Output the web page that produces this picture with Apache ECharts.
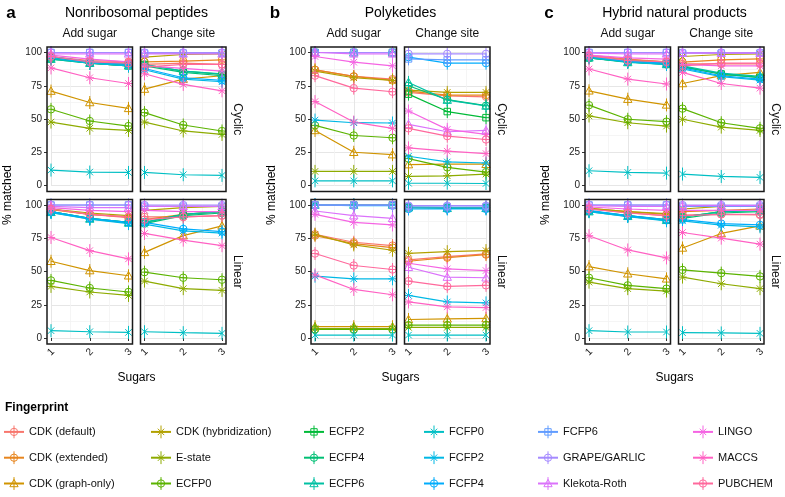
<!DOCTYPE html>
<html><head><meta charset="utf-8">
<script src="https://cdn.jsdelivr.net/npm/echarts@6/dist/echarts.min.js"></script>
<style>html,body{margin:0;padding:0;background:#fff}#c{width:785px;height:497px}</style>
</head><body><div id="c"></div>
<script>
// ---------------- data ----------------
const sugars = [1, 2, 3];
const groupTitles = ['Nonribosomal peptides', 'Polyketides', 'Hybrid natural products'];
const groupLetters = ['a', 'b', 'c'];
const columnLabels = ['Add sugar', 'Change site'];
const rowLabels = ['Cyclic', 'Linear'];
const yTicks = [0, 25, 50, 75, 100];
const fingerprints = ['CDK (default)', 'CDK (extended)', 'CDK (graph-only)', 'CDK (hybridization)', 'E-state',
  'ECFP0', 'ECFP2', 'ECFP4', 'ECFP6', 'FCFP0', 'FCFP2', 'FCFP4', 'FCFP6', 'GRAPE/GARLIC', 'Klekota-Roth',
  'LINGO', 'MACCS', 'PUBCHEM'];
// panel order per group: cyclic-add, cyclic-change, linear-add, linear-change ; groups a, b, c
const cdkDefault = [[97,94,93],[91,92,91],[97,93,90.5],[91,91,92],
  [87,82,80],[70,67.4,66.7],[78,72,69.5],[58.7,61.2,63.2],
  [98,95,93],[91.4,91.4,91.4],[97,94.3,91.8],[92.5,93,92.5]];
const cdkExtended = [[96,93,92],[93,93.5,94.5],[96.5,93,91],[89,93,95],
  [87,82,79],[71,68,68],[77,71,68],[57.7,60.4,62.7],
  [97,94.5,93],[92.7,94.5,95.2],[97.5,95,93],[95,96,97]];
const cdkGraphOnly = [[71,62.4,58],[72.5,80,82.5],[57.7,50.7,46.8],[64.4,77,84.3],
  [41.4,25,23.2],[15.7,16,16],[8.5,8.5,8.5],[13.9,14.4,14.7],
  [71.2,64.9,60.6],[76.7,82.6,85],[53.7,48.3,44.5],[67.7,78.6,84.3]];
const cdkHybridization = [[96,92,90],[96.5,98.5,99],[97,94,92],[96,98,99],
  [86,81,79],[71.7,70,70],[78,70,66],[63.7,64.9,65.7],
  [97,94,92],[97,98.5,99],[97.5,95,93.5],[97,99,99]];
const eState = [[47.7,43,41.4],[47.7,41,38.4],[38.8,34.6,32],[42.8,37.1,35.8],
  [10.6,10.6,10.6],[6.8,7.3,8.6],[7,7,7],[8,8,8],
  [52.3,47.2,44.7],[49.8,43.9,41.4],[42,37.1,35.3],[45.8,40.8,37.1]];
const ecfp0 = [[57.3,48.5,44.7],[54.8,45.5,41],[43.3,37.6,34.6],[49.5,45.3,43.8],
  [45.2,37.6,35.9],[20.2,13.6,10.1],[6.5,6.5,6.5],[9.7,9.7,9.7],
  [60.4,49.8,48],[57.8,47.2,43],[45.3,39.6,37.1],[51.2,48.8,46.3]];
const ecfp2 = [[96,92,90],[91,86,83.5],[95,90,87],[87,93,95],
  [100,100,100],[68.7,55.6,51],[100,100,100],[98,98,98],
  [96,93,91.5],[89.4,83.8,81.3],[95.5,92,89],[91,95,96]];
const ecfp4 = [[95,92,91],[90,85,82.5],[95,90,87],[86,92,94],
  [100,100,100],[75,64.5,60],[100,100,100],[98.5,98,98],
  [96,93,91],[89,84,81],[95.5,92,88.5],[90,94,95]];
const ecfp6 = [[95,92,90],[91,86,84],[94.5,89.5,86.5],[87,93,95],
  [100,100,100],[77.5,64.2,59.8],[100,100,100],[98,97.5,97.5],
  [96,92.5,91],[90,84.5,82],[95,91.5,88.5],[91,95,96]];
const fcfp0 = [[11.6,10.1,9.8],[9.8,8.1,7.6],[5.5,4.7,4.2],[4.7,4,3.5],
  [3.5,3.5,3.5],[1.7,1.7,1.5],[2.2,2.2,2.2],[2.2,2.2,2.2],
  [11.1,9.8,9.3],[8.6,6.8,6.1],[5.5,4.5,4.5],[4,3.8,3.5]];
const fcfp2 = [[96,92,90],[87,80,78],[94.3,89.3,86],[85.6,80.6,78.9],
  [49.2,47.2,47],[22,17.7,16.9],[46.5,44.5,44.5],[32,27.1,26.4],
  [96.5,93,91],[87.6,81.8,79.3],[95,91.3,88.1],[88.1,84.8,83.6]];
const fcfp4 = [[97,93,91],[88,81,79],[95,90,87],[87,82,80],
  [100,100,100],[96.5,92,92],[100,99.5,99.5],[97,97,97],
  [97,93.5,92],[88.5,82.5,80],[96,92,89],[89,86,85]];
const fcfp6 = [[100,100,100],[99.5,99.5,99.5],[100,100,100],[99,99,99],
  [100,100,100],[95.2,94.5,94.5],[100,100,100],[98.5,98.5,98.5],
  [100,100,100],[99.5,99.5,99.5],[100,100,100],[99,99,99]];
const grapeGarlic = [[100,100,100],[100,100,100],[100,100,100],[100,100,100],
  [100,100,100],[99,99,99],[100,100,100],[99.5,99.5,99.5],
  [100,100,100],[100,100,100],[100,100,100],[100,100,100]];
const klekotaRoth = [[99,99,99],[99,99,99],[99,98,98],[99,99,99],
  [100,99,99],[46,40.4,41.4],[95.5,92,90],[53.2,45.8,45.3],
  [99.5,99,99],[99.5,99.5,99.5],[99.5,99,99],[99.5,99.5,99.5]];
const lingo = [[98,95,93],[90,88,86],[98,96,95],[96,95,95],
  [97,92.7,90],[56,42.2,38.4],[93,87,85],[56.2,52,50.7],
  [98,96,95],[91,90,90],[98.5,97,96],[96,96,96]];
const maccs = [[88.4,81,76.7],[84,76,71.2],[75.6,65.7,59.5],[78.6,73.6,69.4],
  [63.1,47.7,43],[28.3,25.8,24],[47.5,36.5,32.5],[27.1,23.4,22.9],
  [87.6,80,76.3],[85,76.7,73.2],[76.9,66.2,60.2],[79.3,75.1,70.6]];
const pubchem = [[97,93,92],[89,91,91],[97,93,91],[89,91,92],
  [82.6,73.2,70.5],[43,37.1,34.6],[63.5,54.5,51.5],[42.8,38.8,39.6],
  [97.5,94,93],[90,92,92],[97,94,92],[92,93,93]];

const seriesValues = [cdkDefault, cdkExtended, cdkGraphOnly, cdkHybridization, eState, ecfp0, ecfp2, ecfp4,
  ecfp6, fcfp0, fcfp2, fcfp4, fcfp6, grapeGarlic, klekotaRoth, lingo, maccs, pubchem];

// ---------------- styles ----------------
const colors = ['#F8766D','#E7851E','#D09400','#B2A100','#8EAB00','#5BB300','#00BA38','#00BF74','#00C0A3',
  '#00BFC4','#00B8E5','#00ACFC','#619CFF','#A58AFF','#DB72FB','#F564E3','#FF61C3','#FF699C'];
const shapeOf = ['circle','circlePlus','triangle','asterisk','asterisk','circlePlus','squarePlus','circlePlus','triangle',
  'cross','asterisk','circlePlus','squarePlus','circle','triangle','asterisk','asterisk','circlePlus'];
const BAR = 'M-7,-7 M7,7 M0,-7 L0,7 ';
const CIRC = 'M-4,0 A4,4 0 1,1 4,0 A4,4 0 1,1 -4,0 Z ';
const SHAPES = {
  circle: BAR + CIRC,
  circlePlus: BAR + CIRC + 'M-4,0 L4,0',
  triangle: BAR + 'M0,-4.5 L4.5,3.5 L-4.5,3.5 Z',
  cross: BAR + 'M-3.5,-3.5 L3.5,3.5 M-3.5,3.5 L3.5,-3.5',
  asterisk: BAR + 'M-3.5,-3.5 L3.5,3.5 M-3.5,3.5 L3.5,-3.5 M-4.5,0 L4.5,0',
  squarePlus: BAR + 'M-3.5,-3.5 L3.5,-3.5 L3.5,3.5 L-3.5,3.5 Z M-3.5,0 L3.5,0'
};
const FONT = '"Liberation Sans", Arial, Helvetica, sans-serif';

// ---------------- layout ----------------
const groupLeft = [47, 311, 585];
const colStep = 93.5, panelW = 85.5;
const rowTop = [47, 199.5], panelH = 144.5;
const inX = 4, inTop = 5.5, inBottom = 6;

const grids = [], xAxes = [], yAxes = [], series = [], graphics = [];
for (let g = 0; g < 3; g++) {
  for (let r = 0; r < 2; r++) {
    for (let c = 0; c < 2; c++) {
      const p = g * 4 + r * 2 + c;
      const pl = groupLeft[g] + c * colStep, pt = rowTop[r];
      grids.push({ left: pl + inX, top: pt + inTop, width: panelW - 2 * inX, height: panelH - inTop - inBottom, containLabel: false });
      xAxes.push({
        type: 'value', gridIndex: p, min: sugars[0], max: sugars[sugars.length - 1], interval: 1, offset: inBottom,
        axisLine: { show: false },
        axisTick: { show: r === 1, length: 3, lineStyle: { color: '#333' } },
        axisLabel: { show: r === 1, rotate: 45, align: 'center', verticalAlign: 'middle', margin: 8,
          fontSize: 10, color: '#222', fontFamily: FONT },
        splitLine: { show: true, lineStyle: { color: '#e6e6e6', width: 1 } },
        minorTick: { show: false, splitNumber: 2 },
        minorSplitLine: { show: true, lineStyle: { color: '#f2f2f2', width: 0.8 } }
      });
      yAxes.push({
        type: 'value', gridIndex: p, min: yTicks[0], max: yTicks[yTicks.length - 1], interval: 25, offset: inX,
        axisLine: { show: false },
        axisTick: { show: c === 0, length: 3, lineStyle: { color: '#333' } },
        axisLabel: { show: c === 0, margin: 5, fontSize: 10, color: '#222', fontFamily: FONT },
        splitLine: { show: true, lineStyle: { color: '#e6e6e6', width: 1 } },
        minorTick: { show: false, splitNumber: 2 },
        minorSplitLine: { show: true, lineStyle: { color: '#f2f2f2', width: 0.8 } }
      });
      graphics.push({ type: 'rect', z: 100, silent: true,
        shape: { x: pl, y: pt, width: panelW, height: panelH },
        style: { fill: 'none', stroke: '#1a1a1a', lineWidth: 1.5 } });
      fingerprints.forEach((name, k) => {
        series.push({
          type: 'line', name: name, xAxisIndex: p, yAxisIndex: p,
          data: sugars.map((s, i) => [s, seriesValues[k][p][i]]),
          symbol: 'path://' + SHAPES[shapeOf[k]], symbolSize: 13,
          lineStyle: { color: colors[k], width: 1.2 },
          itemStyle: { color: 'rgba(255,255,255,0)', borderColor: colors[k], borderWidth: 1 },
          clip: false, silent: true, animation: false
        });
      });
      if (r === 0) {
        graphics.push({ type: 'text', silent: true, x: pl + panelW / 2, y: 34,
          style: { text: columnLabels[c], font: '12px ' + FONT, fill: '#111', align: 'center', verticalAlign: 'middle' } });
      }
      if (c === 1) {
        graphics.push({ type: 'text', silent: true, x: pl + panelW + 11, y: pt + panelH / 2, rotation: -Math.PI / 2,
          style: { text: rowLabels[r], font: '12px ' + FONT, fill: '#111', align: 'center', verticalAlign: 'middle' } });
      }
    }
  }
  const gl = groupLeft[g], gc = gl + (colStep + panelW) / 2;
  graphics.push({ type: 'text', silent: true, x: gl - 36, y: 13,
    style: { text: groupLetters[g], font: 'bold 17px ' + FONT, fill: '#000', align: 'center', verticalAlign: 'middle' } });
  graphics.push({ type: 'text', silent: true, x: gc, y: 13,
    style: { text: groupTitles[g], font: '14px ' + FONT, fill: '#000', align: 'center', verticalAlign: 'middle' } });
  graphics.push({ type: 'text', silent: true, x: gc, y: 378,
    style: { text: 'Sugars', font: '12px ' + FONT, fill: '#000', align: 'center', verticalAlign: 'middle' } });
  graphics.push({ type: 'text', silent: true, x: gl - 39, y: 195, rotation: Math.PI / 2,
    style: { text: '% matched', font: '12px ' + FONT, fill: '#000', align: 'center', verticalAlign: 'middle' } });
}
graphics.push({ type: 'text', silent: true, x: 5, y: 408,
  style: { text: 'Fingerprint', font: 'bold 12px ' + FONT, fill: '#000', align: 'left', verticalAlign: 'middle' } });

const legendLefts = [3, 150, 303, 423, 537, 692];
const legends = legendLefts.map((lx, i) => ({
  orient: 'vertical', left: lx, top: 425, padding: 0, itemWidth: 20, itemHeight: 16, itemGap: 12,
  selectedMode: false, textStyle: { fontSize: 11, color: '#111', fontFamily: FONT },
  itemStyle: { color: 'rgba(255,255,255,0)', borderWidth: 1 },
  data: fingerprints.slice(i * 3, i * 3 + 3)
}));

const chart = echarts.init(document.getElementById('c'), null, { renderer: 'canvas' });
chart.setOption({
  backgroundColor: '#fff', animation: false,
  grid: grids, xAxis: xAxes, yAxis: yAxes, series: series,
  legend: legends, graphic: { elements: graphics }
});
</script></body></html>
